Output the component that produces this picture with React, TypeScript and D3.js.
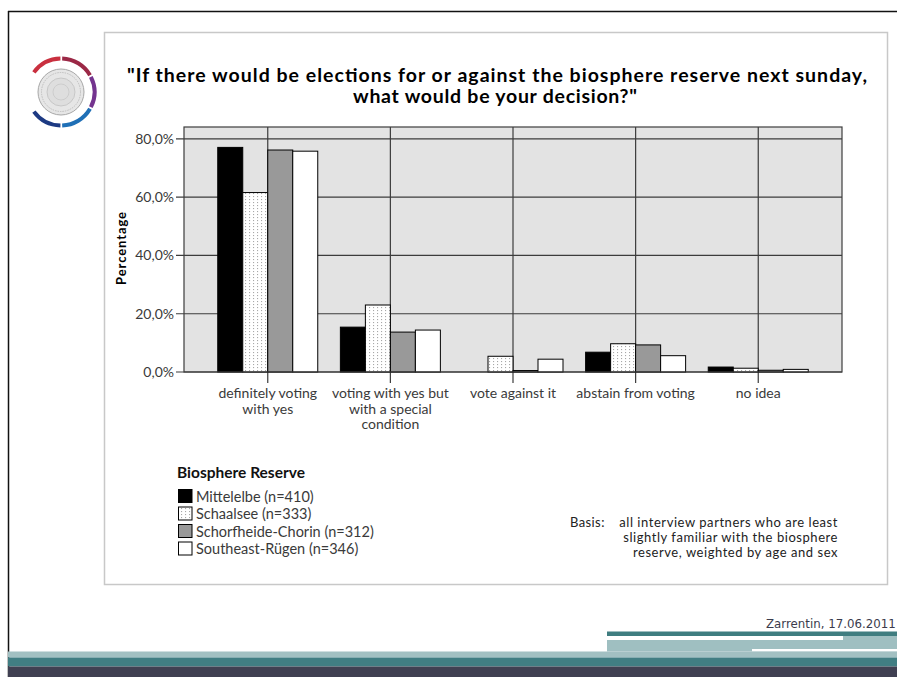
import React from "react";
import * as d3 from "d3";

const categories = [
  "definitely voting with yes",
  "voting with yes but with a special condition",
  "vote against it",
  "abstain from voting",
  "no idea",
];
const categoryLines = [
  ["definitely voting", "with yes"],
  ["voting with yes but", "with a special", "condition"],
  ["vote against it"],
  ["abstain from voting"],
  ["no idea"],
];
const seriesNames = [
  "Mittelelbe (n=410)",
  "Schaalsee (n=333)",
  "Schorfheide-Chorin (n=312)",
  "Southeast-Rügen (n=346)",
];
const mittelelbe = [77.1, 15.4, 0.0, 6.8, 1.7];
const schaalsee = [61.6, 23.0, 5.4, 9.7, 1.3];
const schorfheide = [76.2, 13.7, 0.5, 9.3, 0.6];
const southeast = [75.8, 14.4, 4.4, 5.6, 0.9];
const seriesValues = [mittelelbe, schaalsee, schorfheide, southeast];
const yTicks = [0, 20, 40, 60, 80];

const W = 897;
const H = 677;
const plot = { left: 184, right: 842, top: 127, bottom: 372 };

const fills = ["#000000", "url(#dots)", "#999999", "#ffffff"];

export default function App() {
  const x = d3
    .scalePoint<string>()
    .domain(categories)
    .range([plot.left, plot.right])
    .padding(0.683);
  const inner = d3
    .scaleBand<string>()
    .domain(seriesNames)
    .range([-50, 50])
    .padding(0);
  const y = d3.scaleLinear().domain([0, 84.1]).range([plot.bottom, plot.top]);

  const fmt = (v: number) => v.toFixed(1).replace(".", ",") + "%";

  // logo
  const cx = 61;
  const cy = 92;
  const arc = d3.arc<any>().innerRadius(31.5).outerRadius(35.5);
  const deg = Math.PI / 180;
  const segs = [
    { a0: -54, a1: -1, c: "#c9303f" },
    { a0: 2, a1: 60, c: "#9b2846" },
    { a0: 63, a1: 117, c: "#74348f" },
    { a0: 120, a1: 178, c: "#1f6fb6" },
    { a0: 181, a1: 234, c: "#1d3a83" },
  ];

  const gridColor = "#3c3c3c";
  const font = "Lato, 'Open Sans', sans-serif";
  const textGray = "#3a3a3a";

  return (
    <svg
      width={W}
      height={H}
      style={{ position: "absolute", left: 0, top: 0, background: "#fff" }}
      fontFamily={font}
    >
      <defs>
        <pattern id="dots" width="4" height="3" patternUnits="userSpaceOnUse">
          <rect width="4" height="3" fill="#ffffff" />
          <rect x="1" y="1" width="1.1" height="1.1" fill="#a8a8a8" />
        </pattern>
      </defs>

      {/* slide frame */}
      <rect x={0} y={0} width={W} height={H} fill="#ffffff" />
      <line x1={8.5} y1={11} x2={8.5} y2={H} stroke="#111" strokeWidth={1.5} />
      <line x1={8} y1={11.5} x2={W} y2={11.5} stroke="#111" strokeWidth={1.5} />

      {/* logo */}
      <g transform={`translate(${cx},${cy})`}>
        {segs.map((s, i) => (
          <path
            key={i}
            d={arc({ startAngle: s.a0 * deg, endAngle: s.a1 * deg }) as string}
            fill={s.c}
          />
        ))}
        <circle r={23} fill="#e6e6e6" stroke="#a8a8a8" strokeWidth={1} />
        <circle r={19.5} fill="none" stroke="#b5b5b5" strokeWidth={0.8} strokeDasharray="1.5 1" />
        <circle r={14} fill="#dedede" stroke="#c0c0c0" strokeWidth={0.8} />
        <circle r={8} fill="none" stroke="#c8c8c8" strokeWidth={0.8} />
      </g>

      {/* chart box */}
      <rect x={104.5} y={32.5} width={783} height={552} fill="#fff" stroke="#c8c8c8" strokeWidth={1.5} />

      {/* title */}
      <text
        x={127}
        y={82}
        fontSize={19.5}
        fontWeight="bold"
        fill="#000"
        textLength={740}
        lengthAdjust="spacing"
      >
        "If there would be elections for or against the biosphere reserve next sunday,
      </text>
      <text
        x={353}
        y={103}
        fontSize={19.5}
        fontWeight="bold"
        fill="#000"
        textLength={284}
        lengthAdjust="spacing"
      >
        what would be your decision?"
      </text>

      {/* plot background */}
      <rect
        x={plot.left}
        y={plot.top}
        width={plot.right - plot.left}
        height={plot.bottom - plot.top}
        fill="#e3e3e3"
      />
      {/* horizontal grid */}
      {yTicks.map((t) => (
        <g key={t}>
          <line x1={plot.left - 8} x2={plot.right} y1={y(t)} y2={y(t)} stroke={gridColor} strokeWidth={1.2} />
          <text x={plot.left - 10} y={y(t) + 5} textAnchor="end" fontSize={14} fill={textGray}>
            {fmt(t)}
          </text>
        </g>
      ))}
      {/* vertical grid + ticks */}
      {categories.map((c) => (
        <line
          key={c}
          x1={x(c)!}
          x2={x(c)!}
          y1={plot.top}
          y2={plot.bottom + 11}
          stroke={gridColor}
          strokeWidth={1.2}
        />
      ))}
      {/* bars */}
      {categories.map((c, ci) =>
        seriesNames.map((s, si) => {
          const v = seriesValues[si][ci];
          if (v <= 0) return null;
          const bx = x(c)! + inner(s)!;
          return (
            <rect
              key={c + s}
              x={bx}
              y={y(v)}
              width={inner.bandwidth()}
              height={y(0) - y(v)}
              fill={fills[si]}
              stroke="#000"
              strokeWidth={1}
            />
          );
        })
      )}
      {/* plot frame */}
      <rect
        x={plot.left}
        y={plot.top}
        width={plot.right - plot.left}
        height={plot.bottom - plot.top}
        fill="none"
        stroke={gridColor}
        strokeWidth={1.2}
      />

      {/* x labels */}
      {categories.map((c, ci) =>
        categoryLines[ci].map((ln, li) => (
          <text
            key={c + li}
            x={x(c)!}
            y={398 + li * 15.5}
            textAnchor="middle"
            fontSize={14}
            fill={textGray}
          >
            {ln}
          </text>
        ))
      )}

      {/* y axis title */}
      <text
        transform={`translate(126,248) rotate(-90)`}
        textAnchor="middle"
        fontSize={13}
        fontWeight="bold"
        letterSpacing={0.9}
        fill="#000"
      >
        Percentage
      </text>

      {/* legend */}
      <text x={177} y={478} fontSize={15.5} fontWeight="bold" fill="#111">
        Biosphere Reserve
      </text>
      {seriesNames.map((s, si) => (
        <g key={s}>
          <rect
            x={178.5}
            y={489.5 + si * 17.5}
            width={13.5}
            height={13}
            fill={fills[si]}
            stroke="#000"
            strokeWidth={1}
          />
          <text x={196} y={501.5 + si * 17.5} fontSize={14.5} fill={textGray}>
            {s}
          </text>
        </g>
      ))}

      {/* basis note */}
      <text x={570} y={527} fontSize={13} fill="#222" letterSpacing={0.4}>
        Basis:
      </text>
      <text x={838} y={527} textAnchor="end" fontSize={13} fill="#222" letterSpacing={0.55}>
        all interview partners who are least
      </text>
      <text x={838} y={542} textAnchor="end" fontSize={13} fill="#222" letterSpacing={0.55}>
        slightly familiar with the biosphere
      </text>
      <text x={838} y={557} textAnchor="end" fontSize={13} fill="#222" letterSpacing={0.55}>
        reserve, weighted by age and sex
      </text>

      {/* footer */}
      <text x={766} y={628} fontSize={11.8} fill="#3b3b4c" fontFamily="'DejaVu Sans', sans-serif">
        Zarrentin, 17.06.2011
      </text>
      <rect x={607} y={631.5} width={W - 607} height={4.5} fill="#3f7d80" />
      <rect x={607} y={636} width={W - 607} height={4} fill="#9fbfc1" />
      <rect x={607} y={636} width={236} height={4} fill="#ffffff" />
      <rect x={607} y={640} width={W - 607} height={11.5} fill="#9fbfc1" />
      <rect x={752} y={649} width={W - 752} height={2.5} fill="#ffffff" />
      <rect x={8} y={651.5} width={W - 8} height={6} fill="#a2c0c2" />
      <rect x={8} y={657.5} width={W - 8} height={9} fill="#417e83" />
      <rect x={8} y={666.5} width={W - 8} height={10.5} fill="#404052" />
    </svg>
  );
}
